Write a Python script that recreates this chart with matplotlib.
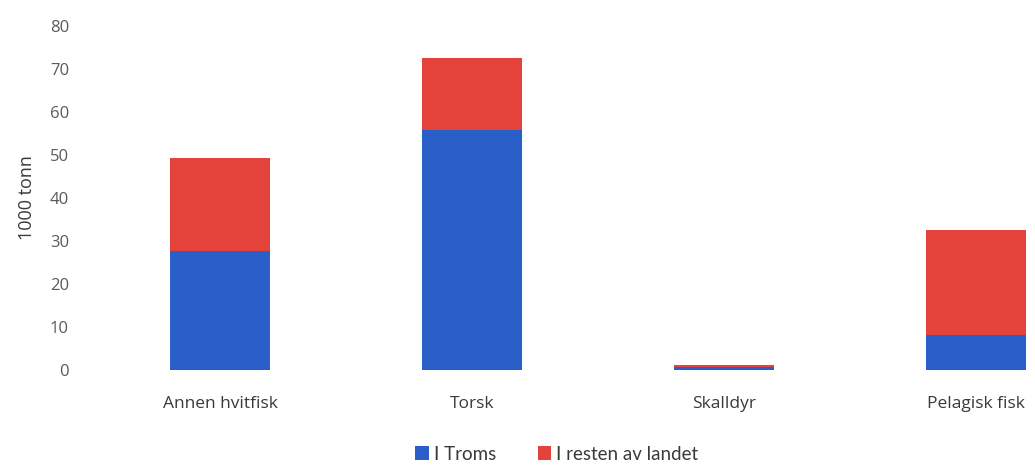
import matplotlib.pyplot as plt
import numpy as np

# data (1000 tonn)
kategorier = ['Annen hvitfisk', 'Torsk', 'Skalldyr', 'Pelagisk fisk']
i_troms = [27.6, 55.8, 0.8, 8.2]
i_resten = [21.6, 16.8, 0.4, 24.3]
serier = ['I Troms', 'I resten av landet']

blaa = '#2b5fc8'
rod = '#e3433a'
graa = '#5a5a5a'
tekst = '#3a3a3a'

plt.rcParams['font.family'] = ['Open Sans', 'DejaVu Sans']

fig = plt.figure(figsize=(10.35, 4.66), dpi=100)
# axes run past the right edge (scan is cropped there)
ax = fig.add_axes([94 / 1035, 96 / 466, 941 / 1035, 344 / 466])

x = np.arange(len(kategorier))
ax.bar(x, i_troms, width=0.4, color=blaa, label=serier[0])
ax.bar(x, i_resten, width=0.4, bottom=i_troms, color=rod, label=serier[1])

ax.set_xlim(-0.5, 941 / 252 - 0.5)
ax.set_ylim(0, 80)
ax.set_yticks(range(0, 81, 10))
ax.set_xticks(x)
ax.set_xticklabels(kategorier)
ax.tick_params(axis='y', length=0, pad=18, labelsize=12, labelcolor=graa)
ax.tick_params(axis='x', length=0, pad=19, labelsize=12.5, labelcolor=tekst)
for s in ax.spines.values():
    s.set_visible(False)

ax.set_ylabel('1000 tonn', fontsize=13, color=tekst, labelpad=10)

leg = fig.legend(loc='center', bbox_to_anchor=(557 / 1035, 12 / 466), ncol=2,
                 frameon=False, fontsize=12.5, handlelength=0.7,
                 handleheight=0.7, handletextpad=0.3, columnspacing=2.2,
                 labelcolor=tekst, prop={'family': ['Lato', 'DejaVu Sans'],
                                         'size': 13.5})

fig.savefig('out.png', dpi=100)
